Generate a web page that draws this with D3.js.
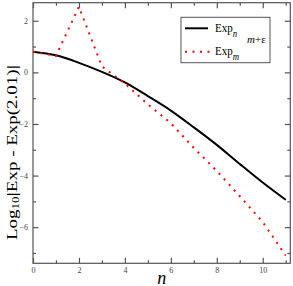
<!DOCTYPE html>
<html>
<head>
<meta charset="utf-8">
<script src="https://cdn.jsdelivr.net/npm/d3@7"></script>
<style>
  body { margin: 0; background: #fff; }
  text { font-family: "Liberation Serif", "DejaVu Serif", serif; }
</style>
</head>
<body>
<div id="chart"></div>
<script>
// data
var nValues = [0, 1, 2, 3, 4, 5, 6, 7, 8, 9, 10, 11];
var expN = [0.8, 0.66, 0.37, 0.02, -0.39, -0.92, -1.48, -2.13, -2.81, -3.55, -4.27, -4.94];
var expM = [0.8, 0.64, 2.54, 0.23, -0.43, -1.24, -1.97, -2.93, -3.82, -4.8, -5.8, -7.1];
var xTicks = [0, 2, 4, 6, 8, 10];
var yTicks = [-6, -4, -2, 0, 2];

var svgWidth = 293;
var svgHeight = 286;

var margin = { top: 2.7, right: 2.7, bottom: 22.7, left: 33 };
var width = svgWidth - margin.left - margin.right;
var height = svgHeight - margin.top - margin.bottom;

var $svg = d3.select("#chart")
  .append("svg")
  .attr("width", svgWidth)
  .attr("height", svgHeight);

// y axis title (the original figure is squeezed sideways, so the glyphs are too)
var yLabel = $svg.append("text")
  .attr("transform", "translate(17, 240) scale(0.72, 1) rotate(-90)")
  .attr("font-size", "19px")
  .attr("fill", "black");
yLabel.append("tspan").text("Log");
yLabel.append("tspan").attr("dy", 2.5).attr("font-size", "13px").text("10");
yLabel.append("tspan").attr("dy", -2.5).attr("font-size", "21px").text("|");
yLabel.append("tspan").text("Exp - Exp(2.01)");
yLabel.append("tspan").attr("font-size", "21px").text("|");

var chartGroup = $svg.append("g")
  .attr("transform", `translate(${margin.left}, ${margin.top})`);

var xScale = d3.scaleLinear().domain([0, 11.2]).range([0, width]);
var yScale = d3.scaleLinear().domain([-7.4, 2.7]).range([height, 0]);

var axisColor = "#555";

// axes, ticks pointing inward on all four sides
function styleAxis(g) {
  g.select(".domain").remove();
  g.selectAll(".tick line").attr("stroke", axisColor).attr("stroke-width", 1.2);
  g.selectAll(".tick text")
    .attr("fill", "#444")
    .attr("font-size", "8px")
    .attr("font-family", "Liberation Serif, serif");
}

var xMinor = d3.range(1, 12, 2);
var yMinor = d3.range(-7, 3, 2);

chartGroup.append("g")
  .attr("transform", `translate(0, ${height})`)
  .call(d3.axisTop(xScale).tickValues(xTicks).tickSize(5.5).tickFormat(""))
  .call(styleAxis);
chartGroup.append("g")
  .attr("transform", `translate(0, ${height})`)
  .call(d3.axisTop(xScale).tickValues(xMinor).tickSize(3).tickFormat(""))
  .call(styleAxis);
chartGroup.append("g")
  .attr("transform", `translate(0, ${height})`)
  .call(d3.axisBottom(xScale).tickValues(xTicks).tickSize(0).tickPadding(4))
  .call(styleAxis);

chartGroup.append("g")
  .call(d3.axisBottom(xScale).tickValues(xTicks).tickSize(5.5).tickFormat(""))
  .call(styleAxis);
chartGroup.append("g")
  .call(d3.axisBottom(xScale).tickValues(xMinor).tickSize(3).tickFormat(""))
  .call(styleAxis);

chartGroup.append("g")
  .call(d3.axisRight(yScale).tickValues(yTicks).tickSize(5.5).tickFormat(""))
  .call(styleAxis);
chartGroup.append("g")
  .call(d3.axisRight(yScale).tickValues(yMinor).tickSize(3).tickFormat(""))
  .call(styleAxis);
chartGroup.append("g")
  .call(d3.axisLeft(yScale).tickValues(yTicks).tickSize(0).tickPadding(5))
  .call(styleAxis);

chartGroup.append("g")
  .attr("transform", `translate(${width}, 0)`)
  .call(d3.axisLeft(yScale).tickValues(yTicks).tickSize(5.5).tickFormat(""))
  .call(styleAxis);
chartGroup.append("g")
  .attr("transform", `translate(${width}, 0)`)
  .call(d3.axisLeft(yScale).tickValues(yMinor).tickSize(3).tickFormat(""))
  .call(styleAxis);

// frame
chartGroup.append("rect")
  .attr("width", width)
  .attr("height", height)
  .attr("fill", "none")
  .attr("stroke", axisColor)
  .attr("stroke-width", 1.2);

// lines
var lineN = d3.line()
  .x((d, i) => xScale(nValues[i]))
  .y(d => yScale(d))
  .curve(d3.curveMonotoneX);

var lineM = d3.line()
  .x((d, i) => xScale(nValues[i]))
  .y(d => yScale(d));

chartGroup.append("path")
  .datum(expN)
  .attr("d", lineN)
  .attr("fill", "none")
  .attr("stroke", "black")
  .attr("stroke-width", 2);

chartGroup.append("path")
  .datum(expM)
  .attr("d", lineM)
  .attr("fill", "none")
  .attr("stroke", "red")
  .attr("stroke-width", 2)
  .attr("stroke-dasharray", "2,5.5");

// legend
var legend = $svg.append("g").attr("transform", "translate(181, 17.3)");
legend.append("rect")
  .attr("width", 89)
  .attr("height", 45.4)
  .attr("fill", "white")
  .attr("stroke", axisColor)
  .attr("stroke-width", 1);

legend.append("line")
  .attr("x1", 4).attr("x2", 27).attr("y1", 11).attr("y2", 11)
  .attr("stroke", "black").attr("stroke-width", 2);
legend.append("line")
  .attr("x1", 4).attr("x2", 30).attr("y1", 34.4).attr("y2", 34.4)
  .attr("stroke", "red").attr("stroke-width", 2)
  .attr("stroke-dasharray", "2,5.5");

var t1 = legend.append("text")
  .attr("transform", "translate(34, 14.4) scale(0.88, 1)")
  .attr("font-size", "12.5px")
  .attr("fill", "black");
t1.append("tspan").text("Exp");
t1.append("tspan").attr("dy", 5).attr("font-size", "10px").attr("font-style", "italic").text("n");

var t2 = legend.append("text")
  .attr("transform", "translate(34, 37.7) scale(0.88, 1)")
  .attr("font-size", "12.5px")
  .attr("fill", "black");
t2.append("tspan").text("Exp");
t2.append("tspan").attr("dy", 5).attr("font-size", "10px").attr("font-style", "italic").text("m");

// superscript placed after the subscript
var t3 = legend.append("text")
  .attr("x", 66).attr("y", 26)
  .attr("font-size", "11px")
  .attr("fill", "black");
t3.append("tspan").attr("font-style", "italic").text("m");
t3.append("tspan").text("+ε");

// x axis title
$svg.append("text")
  .attr("x", margin.left + width / 2)
  .attr("y", 283.5)
  .attr("text-anchor", "middle")
  .attr("font-size", "18px")
  .attr("font-style", "italic")
  .attr("fill", "black")
  .text("n");
</script>
</body>
</html>
